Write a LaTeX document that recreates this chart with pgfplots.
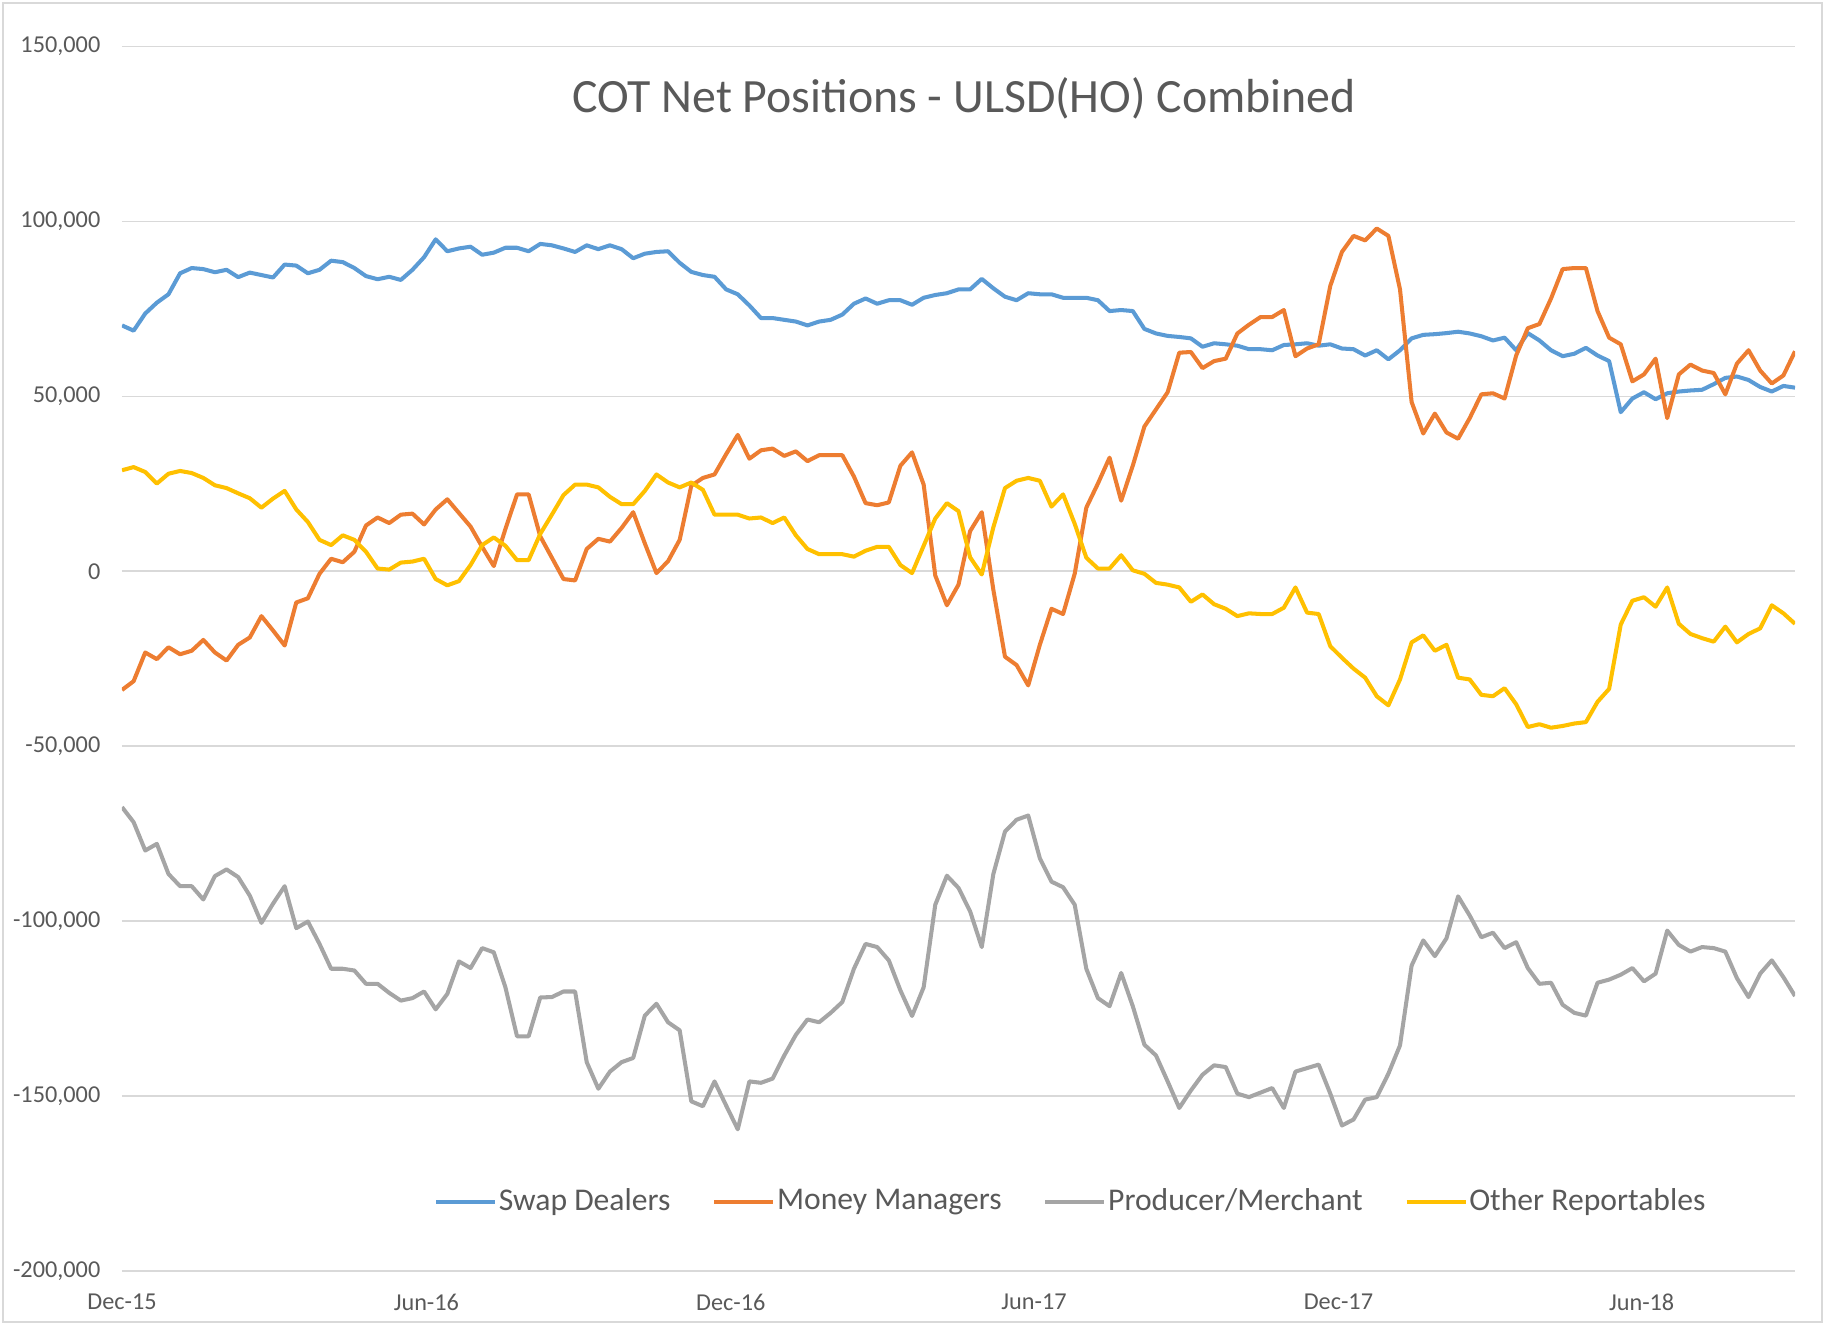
\documentclass[border=0pt]{standalone}
\usepackage{pgfplots}
\pgfplotsset{compat=1.18}
\usepackage{pgfplotstable}
\usepackage{fontspec}
\setmainfont{Carlito}
\definecolor{sdc}{HTML}{5B9BD5}
\definecolor{mmc}{HTML}{ED7D31}
\definecolor{pmc}{HTML}{A5A5A5}
\definecolor{orc}{HTML}{FFC000}
\definecolor{txt}{HTML}{595959}
\definecolor{grd}{HTML}{D9D9D9}

% values in thousands of contracts
\pgfplotstableread{
x sd mm pm or
0 70.3 -33.9 -67.4 28.9
1 68.8 -31.4 -71.7 29.8
2 73.7 -23.2 -79.8 28.4
3 76.8 -25.1 -77.9 25.1
4 79.2 -21.7 -86.5 27.9
5 85.2 -23.7 -90.0 28.7
6 86.7 -22.7 -90.0 28.1
7 86.4 -19.6 -93.8 26.7
8 85.5 -23.2 -87.1 24.6
9 86.2 -25.5 -85.2 23.8
10 84.1 -21.0 -87.4 22.3
11 85.4 -18.9 -92.7 20.9
12 84.7 -12.8 -100.5 18.2
13 84.0 -16.9 -95.0 20.8
14 87.7 -21.2 -90.0 23.0
15 87.4 -8.9 -102.0 17.7
16 85.2 -7.7 -100.1 14.1
17 86.2 -0.7 -106.5 9.0
18 88.8 3.6 -113.6 7.5
19 88.4 2.6 -113.6 10.3
20 86.7 5.6 -114.1 9.0
21 84.4 13.1 -117.9 5.6
22 83.5 15.4 -117.9 0.8
23 84.2 13.8 -120.5 0.5
24 83.3 16.2 -122.7 2.5
25 86.2 16.5 -122.0 2.8
26 89.8 13.4 -120.1 3.6
27 94.9 17.7 -125.2 -2.2
28 91.5 20.6 -120.8 -4.0
29 92.3 16.7 -111.5 -2.8
30 92.8 12.8 -113.4 1.8
31 90.5 7.0 -107.7 7.5
32 91.1 1.5 -108.9 9.7
33 92.5 12.1 -118.9 7.3
34 92.5 22.0 -132.9 3.2
35 91.5 22.0 -132.9 3.2
36 93.6 10.0 -121.8 10.7
37 93.2 3.9 -121.7 16.2
38 92.3 -2.2 -120.1 21.8
39 91.3 -2.6 -120.1 24.8
40 93.2 6.4 -140.3 24.8
41 92.1 9.3 -147.9 24.0
42 93.2 8.5 -143.0 21.3
43 92.1 12.4 -140.3 19.2
44 89.5 16.9 -139.1 19.2
45 90.8 8.0 -127.0 23.0
46 91.3 -0.5 -123.6 27.7
47 91.5 2.9 -128.9 25.4
48 88.2 9.0 -131.2 24.0
49 85.6 24.5 -151.5 25.4
50 84.7 26.7 -152.9 23.3
51 84.2 27.7 -145.8 16.2
52 80.6 33.5 -152.7 16.2
53 79.2 39.0 -159.5 16.2
54 76.0 32.2 -145.8 15.1
55 72.4 34.6 -146.2 15.4
56 72.4 35.1 -145.0 13.8
57 71.9 33.0 -138.4 15.4
58 71.4 34.3 -132.5 10.3
59 70.3 31.5 -128.1 6.4
60 71.4 33.2 -128.9 4.9
61 71.9 33.2 -126.2 4.9
62 73.4 33.2 -123.1 4.9
63 76.5 27.1 -113.6 4.2
64 78.0 19.5 -106.5 5.9
65 76.5 18.9 -107.4 7.0
66 77.5 19.7 -111.2 7.0
67 77.5 30.2 -119.8 1.8
68 76.2 34.0 -127.1 -0.5
69 78.2 24.8 -118.9 7.3
70 79.0 -1.2 -95.3 15.1
71 79.5 -9.7 -87.0 19.5
72 80.6 -3.8 -90.5 17.2
73 80.6 11.5 -97.2 4.0
74 83.6 16.9 -107.4 -0.9
75 80.9 -5.3 -86.5 12.6
76 78.5 -24.4 -74.4 23.8
77 77.5 -26.8 -71.0 25.9
78 79.5 -32.6 -69.8 26.7
79 79.2 -21.0 -82.0 25.9
80 79.2 -10.7 -88.7 18.5
81 78.2 -12.2 -90.3 22.0
82 78.2 -0.7 -95.3 13.6
83 78.2 18.2 -113.6 3.9
84 77.5 25.1 -122.0 0.8
85 74.4 32.5 -124.3 0.8
86 74.7 20.2 -114.8 4.6
87 74.4 30.2 -124.3 0.3
88 69.3 41.4 -135.3 -0.7
89 68.0 46.3 -138.4 -3.3
90 67.3 51.2 -145.8 -3.8
91 67.0 62.5 -153.4 -4.6
92 66.6 62.7 -148.4 -8.7
93 64.2 58.1 -143.9 -6.6
94 65.2 60.1 -141.2 -9.4
95 64.9 60.8 -141.7 -10.7
96 64.5 68.0 -149.3 -12.8
97 63.5 70.5 -150.3 -12.0
98 63.5 72.7 -149.0 -12.2
99 63.2 72.7 -147.7 -12.2
100 64.7 74.7 -153.4 -10.4
101 64.9 61.5 -143.0 -4.6
102 65.2 63.7 -142.0 -11.8
103 64.5 64.9 -141.0 -12.2
104 64.9 81.6 -149.3 -21.4
105 63.7 91.3 -158.4 -24.7
106 63.5 95.9 -156.7 -27.8
107 61.7 94.6 -151.0 -30.4
108 63.2 98.0 -150.3 -35.7
109 60.6 95.9 -143.6 -38.3
110 63.2 80.6 -135.5 -30.9
111 66.6 48.4 -112.7 -20.3
112 67.6 39.4 -105.5 -18.3
113 67.8 45.1 -110.0 -22.7
114 68.1 39.7 -104.9 -21.0
115 68.5 37.9 -92.9 -30.4
116 68.0 43.8 -98.4 -30.9
117 67.2 50.6 -104.6 -35.3
118 66.0 50.9 -103.3 -35.7
119 66.8 49.4 -107.7 -33.4
120 63.2 61.7 -106.0 -38.0
121 68.1 69.5 -113.4 -44.5
122 66.0 70.7 -117.9 -43.7
123 63.2 78.0 -117.6 -44.7
124 61.5 86.4 -123.9 -44.2
125 62.2 86.7 -126.2 -43.5
126 63.9 86.7 -127.0 -43.1
127 61.7 74.4 -117.6 -37.3
128 60.1 66.8 -116.7 -33.6
129 45.5 64.9 -115.3 -15.2
130 49.4 54.3 -113.4 -8.4
131 51.2 56.3 -117.2 -7.4
132 49.2 60.8 -115.0 -10.1
133 50.9 43.8 -102.7 -4.6
134 51.4 56.3 -106.8 -15.0
135 51.7 59.1 -108.7 -17.9
136 51.9 57.4 -107.4 -19.1
137 53.5 56.7 -107.7 -20.1
138 55.3 50.6 -108.7 -15.8
139 55.7 59.4 -116.3 -20.3
140 54.7 63.2 -121.7 -17.9
141 52.7 57.4 -115.0 -16.3
142 51.4 53.7 -111.2 -9.7
143 53.0 56.0 -116.0 -12.0
144 52.5 62.9 -121.4 -15.0
}\cotdata

\begin{document}
\begin{tikzpicture}
\begin{axis}[
  at={(0,0)}, anchor=south west, scale only axis,
  width=16.73cm, height=12.244cm,
  xmin=0, xmax=144, ymin=-200, ymax=150,
  axis line style={draw=none},
  major tick length=0pt,
  xtick={0,26.2,52.4,78.5,104.7,130.8},
  xticklabels={Dec-15,Jun-16,Dec-16,Jun-17,Dec-17,Jun-18},
  ytick={-200,-150,-100,-50,0,50,100,150},
  yticklabels={{-200,000},{-150,000},{-100,000},{-50,000},0,{50,000},{100,000},{150,000}},
  ymajorgrids, grid style={grd, line width=0.5pt},
  tick label style={font=\fontsize{6.9}{8}\selectfont, text=txt},
  yticklabel style={anchor=east, inner sep=0pt, xshift=-0.21cm},
  xticklabel style={anchor=center, inner sep=0pt, yshift=-0.31cm},
  legend style={at={(0.567,0.056)}, anchor=center, draw=none, fill=none,
    legend columns=4, font=\fontsize{9}{11}\selectfont, text=txt,
    inner sep=0pt, nodes={inner xsep=0.5pt},
    /tikz/every even column/.append style={column sep=0.4cm}},
  legend cell align=left,
  legend image code/.code={\draw[#1, line width=1.15pt] (0cm,0cm) -- (0.59cm,0cm);},
  every axis plot/.append style={line width=1.15pt, line join=round, no markers},
]
\addplot[sdc] table[x=x, y=sd] {\cotdata};
\addlegendentry{Swap Dealers}
\addplot[mmc] table[x=x, y=mm] {\cotdata};
\addlegendentry{Money Managers}
\addplot[pmc] table[x=x, y=pm] {\cotdata};
\addlegendentry{Producer/Merchant}
\addplot[orc] table[x=x, y=or] {\cotdata};
\addlegendentry{Other Reportables}
\end{axis}
\node[font=\fontsize{13.6}{16}\selectfont, text=txt] at (8.42,11.73) {COT Net Positions - ULSD(HO) Combined};
\pgfresetboundingbox
\path[use as bounding box] (-1.22,-0.54) rectangle (17.03,12.71);
\draw[grd, line width=0.8pt] (-1.19,-0.51) rectangle (17.0,12.68);
\end{tikzpicture}
\end{document}
